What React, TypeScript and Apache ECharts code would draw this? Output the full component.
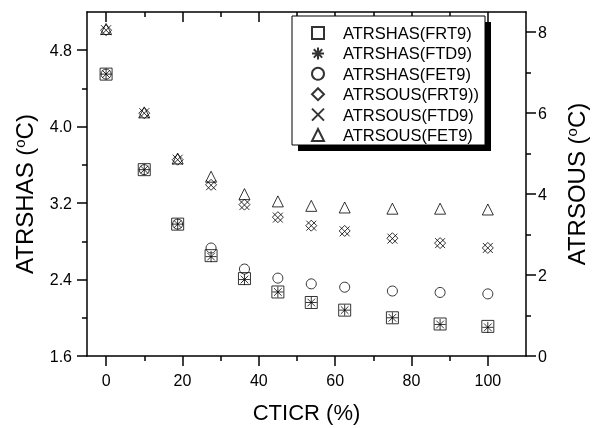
import React, { useEffect, useRef } from "react";
import * as echarts from "echarts";

const xValues = [0, 10, 18.75, 27.5, 36.25, 45, 53.75, 62.5, 75, 87.5, 100];
const shasFRT9 = [4.55, 3.55, 2.98, 2.65, 2.41, 2.27, 2.16, 2.08, 2.0, 1.935, 1.91];
const shasFTD9 = [4.55, 3.55, 2.98, 2.64, 2.40, 2.27, 2.16, 2.08, 2.0, 1.93, 1.9];
const shasFET9 = [4.55, 3.55, 2.98, 2.73, 2.51, 2.415, 2.355, 2.32, 2.28, 2.265, 2.25];
const sousFRT9 = [8.05, 6.0, 4.85, 4.23, 3.74, 3.43, 3.22, 3.09, 2.91, 2.79, 2.67];
const sousFTD9 = [8.05, 6.0, 4.85, 4.22, 3.73, 3.42, 3.22, 3.08, 2.9, 2.79, 2.67];
const sousFET9 = [8.08, 6.02, 4.88, 4.43, 4.0, 3.82, 3.71, 3.67, 3.64, 3.64, 3.62];

const xMajor = [0, 20, 40, 60, 80, 100];
const xMinor = [10, 30, 50, 70, 90];
const yLeftMajor = [1.6, 2.4, 3.2, 4.0, 4.8];
const yLeftMinor = [2.0, 2.8, 3.6, 4.4];
const yRightMajor = [0, 2, 4, 6, 8];
const yRightMinor = [1, 3, 5, 7];

const FONT = "Liberation Sans, Arial, sans-serif";
const ASTERISK = "path://M0,-10L0,10M-10,0L10,0M-7,-7L7,7M-7,7L7,-7";
const CROSS = "path://M-10,-10L10,10M-10,10L10,-10";

const pair = (ys: number[]) => xValues.map((x, i) => [x, ys[i]]);

export default function App() {
  const ref = useRef<HTMLDivElement>(null);
  useEffect(() => {
    if (!ref.current) return;
    const chart = echarts.init(ref.current, null, { renderer: "svg" });
    const lineStyle = { color: "#000", width: 1.5 };
    const hollow = { color: "transparent", borderColor: "#000", borderWidth: 1 };
    const sup = { fontSize: 15, verticalAlign: "top" as const, fontFamily: FONT, color: "#000" };
    const yMain = { fontSize: 24, fontFamily: FONT, color: "#000" };
    const xMain = { fontSize: 22, fontFamily: FONT, color: "#000" };
    const xBase = { type: "value", min: -5, max: 110, splitLine: { show: false }, gridIndex: 0 };
    const yL = { type: "value", min: 1.6, max: 5.2, splitLine: { show: false } };
    const yR = { type: "value", min: 0, max: 8.5, splitLine: { show: false } };
    const mkSeries = (name: string, data: number[], symbol: string, size: number, yAxisIndex: number) => ({
      name,
      type: "scatter",
      data: pair(data),
      symbol,
      symbolSize: size,
      xAxisIndex: 0,
      yAxisIndex,
      itemStyle: hollow,
      emphasis: { disabled: true },
    });
    const line = { show: true, onZero: false, lineStyle };
    const noLine = { show: false, onZero: false };
    chart.setOption({
      animation: false,
      grid: { left: 87, right: 67, top: 12, bottom: 72 },
      xAxis: [
        {
          ...xBase,
          position: "bottom",
          axisLine: line,
          axisTick: { show: true, inside: false, length: 10, lineStyle, customValues: xMajor },
          axisLabel: { customValues: xMajor, fontSize: 16, fontFamily: FONT, color: "#000", margin: 16 },
          name: "CTICR (%)",
          nameLocation: "middle",
          nameGap: 45,
          nameTextStyle: xMain,
        },
        {
          ...xBase,
          position: "bottom",
          axisLine: noLine,
          axisTick: { show: true, inside: false, length: 5, lineStyle, customValues: xMinor },
          axisLabel: { show: false },
        },
        {
          ...xBase,
          position: "top",
          axisLine: line,
          axisTick: { show: true, inside: true, length: 10, lineStyle, customValues: xMajor },
          axisLabel: { show: false },
        },
        {
          ...xBase,
          position: "top",
          axisLine: noLine,
          axisTick: { show: true, inside: true, length: 5, lineStyle, customValues: xMinor },
          axisLabel: { show: false },
        },
      ],
      yAxis: [
        {
          ...yL,
          position: "left",
          axisLine: line,
          axisTick: { show: true, inside: false, length: 10, lineStyle, customValues: yLeftMajor },
          axisLabel: {
            customValues: yLeftMajor,
            formatter: (v: number) => v.toFixed(1),
            fontSize: 16,
            fontFamily: FONT,
            color: "#000",
            margin: 15,
          },
          name: "{m|ATRSHAS (}{s|o}{m|C)}",
          nameLocation: "middle",
          nameGap: 51,
          nameTextStyle: { ...yMain, padding: [0, 20, 0, 0], rich: { m: yMain, s: sup } },
        },
        {
          ...yL,
          position: "left",
          axisLine: noLine,
          axisTick: { show: true, inside: false, length: 5, lineStyle, customValues: yLeftMinor },
          axisLabel: { show: false },
        },
        {
          ...yR,
          position: "right",
          axisLine: line,
          axisTick: { show: true, inside: false, length: 10, lineStyle, customValues: yRightMajor },
          axisLabel: { customValues: yRightMajor, fontSize: 16, fontFamily: FONT, color: "#000", margin: 12 },
          name: "{m|ATRSOUS (}{s|o}{m|C)}",
          nameLocation: "middle",
          nameGap: 38,
          nameTextStyle: { ...yMain, rich: { m: yMain, s: sup } },
        },
        {
          ...yR,
          position: "right",
          axisLine: noLine,
          axisTick: { show: true, inside: false, length: 5, lineStyle, customValues: yRightMinor },
          axisLabel: { show: false },
        },
      ],
      graphic: [
        { type: "rect", z: 50, shape: { x: 298, y: 22, width: 193, height: 129 }, style: { fill: "#000" } },
        {
          type: "rect",
          z: 51,
          shape: { x: 292, y: 16, width: 193, height: 129 },
          style: { fill: "#fff", stroke: "#000", lineWidth: 1 },
        },
      ],
      legend: {
        z: 60,
        left: 292,
        top: 16,
        orient: "vertical",
        padding: [7, 0, 0, 19],
        itemWidth: 12,
        itemHeight: 12,
        itemGap: 0.4,
        textStyle: { fontSize: 16.5, fontFamily: FONT, color: "#000", lineHeight: 20, padding: [0, 0, 0, 14] },
        data: [
          "ATRSHAS(FRT9)",
          "ATRSHAS(FTD9)",
          "ATRSHAS(FET9)",
          "ATRSOUS(FRT9))",
          "ATRSOUS(FTD9)",
          "ATRSOUS(FET9)",
        ],
        selectedMode: false,
      },
      series: [
        mkSeries("ATRSHAS(FRT9)", shasFRT9, "rect", 12, 0),
        mkSeries("ATRSHAS(FTD9)", shasFTD9, ASTERISK, 11, 0),
        mkSeries("ATRSHAS(FET9)", shasFET9, "circle", 10, 0),
        mkSeries("ATRSOUS(FRT9))", sousFRT9, "diamond", 11, 2),
        mkSeries("ATRSOUS(FTD9)", sousFTD9, CROSS, 10, 2),
        mkSeries("ATRSOUS(FET9)", sousFET9, "triangle", 11, 2),
      ],
    });
    return () => chart.dispose();
  }, []);
  return <div ref={ref} style={{ position: "fixed", left: 0, top: 0, width: 596, height: 428 }} />;
}
